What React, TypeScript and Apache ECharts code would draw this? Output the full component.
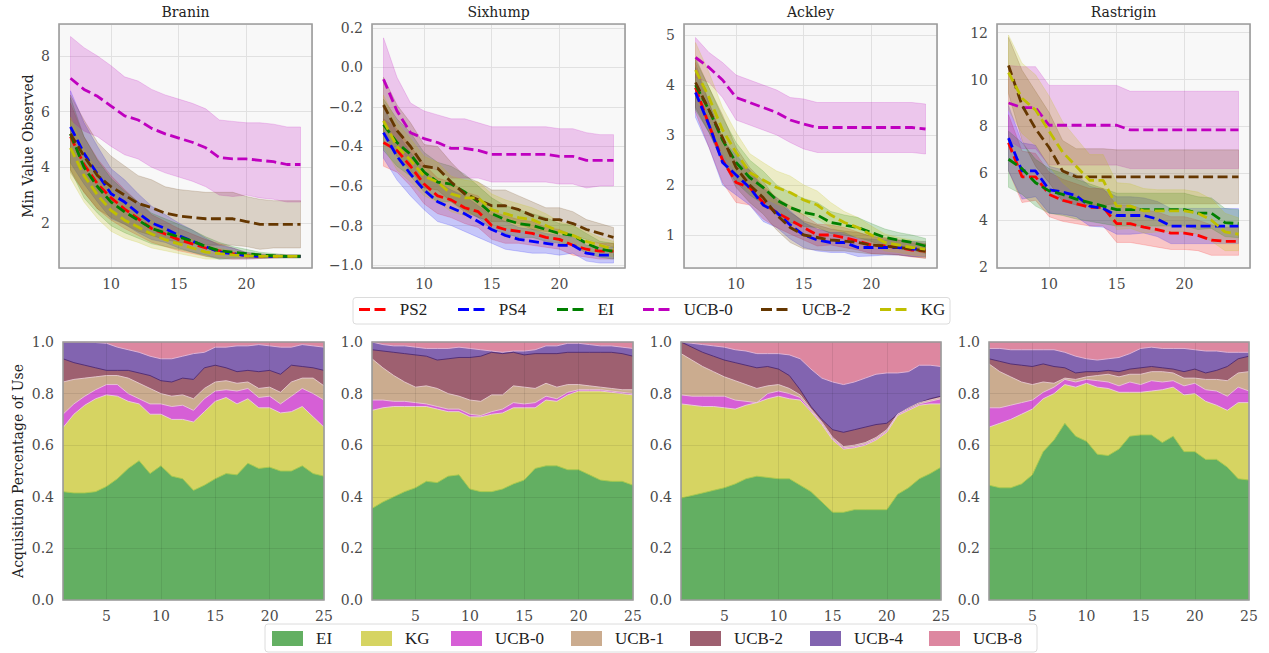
import React, { useEffect, useRef } from "react";
import * as echarts from "echarts";

// ---------------- DATA ----------------
const topX = [7, 8, 9, 10, 11, 12, 13, 14, 15, 16, 17, 18, 19, 20, 21, 22, 23, 24];
const bottomX = [1, 2, 3, 4, 5, 6, 7, 8, 9, 10, 11, 12, 13, 14, 15, 16, 17, 18, 19, 20, 21, 22, 23, 24, 25];

const topMethods = ["PS2", "PS4", "EI", "UCB-0", "UCB-2", "KG"];
const bottomMethods = ["EI", "KG", "UCB-0", "UCB-1", "UCB-2", "UCB-4", "UCB-8"];
const topTitles = ["Branin", "Sixhump", "Ackley", "Rastrigin"];

// Branin: mean and spread of min value observed
const braninPS2 = [5.1, 4.1, 3.4, 2.9, 2.5, 2.15, 1.8, 1.6, 1.4, 1.25, 1.1, 1.0, 0.9, 0.82, 0.8, 0.8, 0.8, 0.8];
const braninPS4 = [5.45, 4.5, 3.75, 3.05, 2.75, 2.35, 2.0, 1.8, 1.55, 1.35, 1.15, 0.95, 0.9, 0.82, 0.8, 0.8, 0.8, 0.8];
const braninEI = [5.2, 4.0, 3.3, 2.75, 2.4, 2.1, 1.8, 1.65, 1.5, 1.35, 1.15, 1.0, 0.95, 0.9, 0.85, 0.82, 0.8, 0.8];
const braninUCB0 = [7.2, 6.8, 6.55, 6.2, 5.85, 5.7, 5.4, 5.2, 5.05, 4.9, 4.7, 4.35, 4.3, 4.3, 4.25, 4.2, 4.1, 4.1];
const braninUCB2 = [5.2, 4.4, 3.7, 3.3, 3.0, 2.7, 2.55, 2.35, 2.25, 2.2, 2.15, 2.15, 2.15, 2.05, 1.95, 1.95, 1.95, 1.95];
const braninKG = [4.7, 3.7, 3.0, 2.45, 2.1, 1.85, 1.6, 1.4, 1.25, 1.1, 0.95, 0.9, 0.85, 0.82, 0.8, 0.8, 0.8, 0.8];
const braninPS2Sd = [1.2, 1.0, 0.9, 0.8, 0.7, 0.6, 0.5, 0.45, 0.4, 0.35, 0.3, 0.25, 0.2, 0.12, 0.08, 0.06, 0.05, 0.05];
const braninPS4Sd = [1.3, 1.1, 1.0, 0.9, 0.8, 0.7, 0.6, 0.5, 0.45, 0.4, 0.3, 0.25, 0.2, 0.12, 0.08, 0.06, 0.05, 0.05];
const braninEISd = [1.3, 1.1, 0.95, 0.85, 0.75, 0.65, 0.55, 0.5, 0.45, 0.4, 0.35, 0.3, 0.2, 0.15, 0.1, 0.08, 0.06, 0.06];
const braninUCB0Sd = [1.5, 1.5, 1.45, 1.45, 1.4, 1.4, 1.4, 1.4, 1.4, 1.4, 1.4, 1.35, 1.35, 1.3, 1.35, 1.35, 1.35, 1.35];
const braninUCB2Sd = [1.4, 1.3, 1.2, 1.1, 1.05, 1.0, 1.0, 0.95, 0.95, 0.95, 0.95, 0.95, 0.95, 0.9, 0.9, 0.85, 0.85, 0.85];
const braninKGSd = [1.1, 0.95, 0.85, 0.75, 0.65, 0.55, 0.5, 0.4, 0.35, 0.3, 0.25, 0.2, 0.15, 0.1, 0.08, 0.06, 0.05, 0.05];

// Sixhump
const sixhumpPS2 = [-0.38, -0.42, -0.5, -0.59, -0.65, -0.67, -0.71, -0.73, -0.8, -0.82, -0.83, -0.84, -0.86, -0.87, -0.9, -0.92, -0.93, -0.93];
const sixhumpPS4 = [-0.33, -0.45, -0.54, -0.62, -0.68, -0.71, -0.74, -0.78, -0.82, -0.85, -0.87, -0.88, -0.89, -0.9, -0.9, -0.94, -0.95, -0.95];
const sixhumpEI = [-0.29, -0.38, -0.44, -0.53, -0.58, -0.59, -0.63, -0.68, -0.74, -0.77, -0.79, -0.8, -0.82, -0.84, -0.85, -0.89, -0.92, -0.93];
const sixhumpUCB0 = [-0.06, -0.22, -0.33, -0.36, -0.38, -0.41, -0.41, -0.42, -0.44, -0.44, -0.44, -0.44, -0.44, -0.45, -0.45, -0.47, -0.47, -0.47];
const sixhumpUCB2 = [-0.19, -0.32, -0.4, -0.5, -0.51, -0.58, -0.64, -0.67, -0.7, -0.7, -0.72, -0.75, -0.77, -0.77, -0.79, -0.82, -0.84, -0.86];
const sixhumpKG = [-0.27, -0.4, -0.47, -0.55, -0.58, -0.64, -0.66, -0.66, -0.72, -0.74, -0.76, -0.77, -0.8, -0.83, -0.85, -0.88, -0.9, -0.92];
const sixhumpPS2Sd = [0.12, 0.11, 0.1, 0.1, 0.09, 0.09, 0.08, 0.08, 0.07, 0.07, 0.06, 0.06, 0.05, 0.05, 0.05, 0.04, 0.04, 0.04];
const sixhumpPS4Sd = [0.13, 0.12, 0.11, 0.1, 0.1, 0.09, 0.09, 0.08, 0.07, 0.07, 0.06, 0.06, 0.05, 0.05, 0.04, 0.04, 0.04, 0.04];
const sixhumpEISd = [0.13, 0.12, 0.11, 0.1, 0.1, 0.09, 0.09, 0.08, 0.08, 0.07, 0.07, 0.06, 0.06, 0.05, 0.05, 0.05, 0.04, 0.04];
const sixhumpUCB0Sd = [0.21, 0.17, 0.15, 0.14, 0.14, 0.15, 0.15, 0.14, 0.14, 0.14, 0.14, 0.14, 0.14, 0.14, 0.14, 0.14, 0.13, 0.13];
const sixhumpUCB2Sd = [0.14, 0.13, 0.12, 0.11, 0.11, 0.1, 0.09, 0.09, 0.08, 0.08, 0.07, 0.07, 0.06, 0.06, 0.06, 0.05, 0.05, 0.05];
const sixhumpKGSd = [0.13, 0.12, 0.11, 0.1, 0.1, 0.09, 0.09, 0.08, 0.08, 0.07, 0.07, 0.06, 0.06, 0.05, 0.05, 0.05, 0.04, 0.04];

// Ackley
const ackleyPS2 = [3.95, 3.2, 2.5, 2.05, 1.95, 1.65, 1.45, 1.3, 1.15, 1.0, 1.0, 0.95, 0.88, 0.8, 0.78, 0.75, 0.7, 0.68];
const ackleyPS4 = [3.85, 3.2, 2.45, 2.2, 1.95, 1.6, 1.45, 1.2, 1.0, 0.9, 0.85, 0.85, 0.75, 0.75, 0.75, 0.75, 0.72, 0.72];
const ackleyEI = [4.0, 3.5, 2.9, 2.45, 2.15, 1.95, 1.7, 1.55, 1.45, 1.4, 1.25, 1.2, 1.15, 1.05, 0.95, 0.9, 0.85, 0.78];
const ackleyUCB0 = [4.55, 4.35, 4.1, 3.75, 3.65, 3.55, 3.45, 3.3, 3.22, 3.15, 3.15, 3.15, 3.15, 3.15, 3.15, 3.15, 3.15, 3.12];
const ackleyUCB2 = [4.05, 3.5, 2.95, 2.35, 2.0, 1.75, 1.4, 1.15, 1.0, 0.95, 0.9, 0.88, 0.85, 0.8, 0.78, 0.75, 0.72, 0.68];
const ackleyKG = [4.3, 3.75, 3.1, 2.65, 2.25, 2.1, 1.95, 1.85, 1.7, 1.6, 1.4, 1.25, 1.15, 1.0, 0.85, 0.8, 0.75, 0.72];
const ackleyPS2Sd = [0.5, 0.45, 0.45, 0.4, 0.35, 0.33, 0.3, 0.28, 0.25, 0.22, 0.2, 0.2, 0.18, 0.17, 0.15, 0.15, 0.14, 0.14];
const ackleyPS4Sd = [0.5, 0.45, 0.45, 0.4, 0.35, 0.33, 0.3, 0.28, 0.25, 0.22, 0.2, 0.2, 0.18, 0.17, 0.15, 0.15, 0.15, 0.15];
const ackleyEISd = [0.5, 0.45, 0.45, 0.4, 0.35, 0.33, 0.3, 0.3, 0.28, 0.25, 0.22, 0.2, 0.2, 0.18, 0.17, 0.15, 0.15, 0.15];
const ackleyUCB0Sd = [0.4, 0.3, 0.35, 0.45, 0.45, 0.45, 0.45, 0.45, 0.5, 0.5, 0.5, 0.5, 0.5, 0.5, 0.5, 0.5, 0.5, 0.5];
const ackleyUCB2Sd = [0.5, 0.45, 0.45, 0.4, 0.35, 0.33, 0.3, 0.3, 0.28, 0.25, 0.22, 0.2, 0.2, 0.18, 0.17, 0.15, 0.15, 0.15];
const ackleyKGSd = [0.55, 0.5, 0.45, 0.4, 0.38, 0.35, 0.33, 0.33, 0.3, 0.28, 0.25, 0.22, 0.2, 0.18, 0.17, 0.15, 0.15, 0.15];

// Rastrigin
const rastriginPS2 = [7.3, 5.85, 5.85, 5.1, 4.85, 4.7, 4.55, 4.55, 3.85, 3.85, 3.7, 3.6, 3.45, 3.45, 3.35, 3.15, 3.1, 3.1];
const rastriginPS4 = [7.5, 6.1, 6.1, 5.3, 5.2, 5.05, 4.6, 4.5, 4.2, 4.2, 4.2, 4.05, 3.75, 3.75, 3.75, 3.75, 3.75, 3.75];
const rastriginEI = [6.6, 6.2, 5.6, 5.25, 5.1, 4.9, 4.75, 4.6, 4.45, 4.45, 4.45, 4.45, 4.45, 4.45, 4.3, 4.3, 3.9, 3.85];
const rastriginUCB0 = [9.0, 8.8, 8.8, 8.05, 8.05, 8.05, 8.05, 8.05, 8.05, 7.85, 7.85, 7.85, 7.85, 7.85, 7.85, 7.85, 7.85, 7.85];
const rastriginUCB2 = [10.6, 8.9, 7.9, 7.1, 6.1, 5.85, 5.85, 5.85, 5.85, 5.85, 5.85, 5.85, 5.85, 5.85, 5.85, 5.85, 5.85, 5.85];
const rastriginKG = [10.3, 9.2, 8.7, 7.8, 6.9, 6.3, 5.7, 5.7, 4.6, 4.6, 4.4, 4.4, 4.4, 4.4, 4.3, 4.0, 3.5, 3.4];
const rastriginPS2Sd = [1.2, 1.1, 1.0, 0.95, 0.9, 0.85, 0.8, 0.8, 0.8, 0.8, 0.75, 0.75, 0.7, 0.7, 0.65, 0.65, 0.6, 0.6];
const rastriginPS4Sd = [1.4, 1.2, 1.1, 1.0, 0.95, 0.9, 0.85, 0.8, 0.8, 0.8, 0.75, 0.75, 0.75, 0.75, 0.75, 0.75, 0.75, 0.75];
const rastriginEISd = [1.2, 1.1, 1.0, 0.95, 0.9, 0.85, 0.8, 0.75, 0.7, 0.7, 0.7, 0.7, 0.7, 0.7, 0.7, 0.65, 0.6, 0.6];
const rastriginUCB0Sd = [1.6, 1.75, 1.75, 1.7, 1.7, 1.7, 1.7, 1.7, 1.7, 1.65, 1.65, 1.65, 1.65, 1.65, 1.65, 1.65, 1.65, 1.65];
const rastriginUCB2Sd = [1.2, 1.5, 1.6, 1.5, 1.3, 1.2, 1.2, 1.2, 1.15, 1.15, 1.15, 1.15, 1.15, 1.15, 1.15, 1.15, 1.15, 1.15];
const rastriginKGSd = [1.6, 1.5, 1.5, 1.5, 1.3, 1.2, 1.1, 1.1, 1.0, 0.95, 0.95, 0.9, 0.9, 0.9, 0.9, 0.9, 0.8, 0.7];

// Acquisition use: cumulative share (top edge of each stacked layer)
const braninCumEI = [0.42, 0.415, 0.415, 0.42, 0.44, 0.47, 0.51, 0.54, 0.49, 0.52, 0.48, 0.47, 0.425, 0.445, 0.47, 0.49, 0.485, 0.53, 0.51, 0.515, 0.5, 0.5, 0.52, 0.49, 0.48];
const braninCumKG = [0.668, 0.72, 0.755, 0.78, 0.795, 0.79, 0.77, 0.76, 0.72, 0.72, 0.7, 0.7, 0.69, 0.73, 0.77, 0.785, 0.76, 0.78, 0.745, 0.745, 0.725, 0.73, 0.75, 0.71, 0.67];
const braninCumUCB0 = [0.72, 0.76, 0.79, 0.815, 0.835, 0.835, 0.8, 0.78, 0.76, 0.76, 0.75, 0.755, 0.735, 0.78, 0.81, 0.815, 0.81, 0.82, 0.785, 0.79, 0.76, 0.79, 0.82, 0.8, 0.775];
const braninCumUCB1 = [0.845, 0.855, 0.86, 0.865, 0.87, 0.87, 0.86, 0.84, 0.82, 0.8, 0.79, 0.795, 0.78, 0.82, 0.845, 0.85, 0.84, 0.845, 0.82, 0.825, 0.805, 0.845, 0.86, 0.86, 0.83];
const braninCumUCB2 = [0.935, 0.92, 0.91, 0.9, 0.89, 0.89, 0.89, 0.88, 0.87, 0.85, 0.845, 0.86, 0.855, 0.9, 0.91, 0.9, 0.885, 0.89, 0.885, 0.89, 0.875, 0.91, 0.905, 0.9, 0.89];
const braninCumUCB4 = [1.0, 1.0, 1.0, 0.998, 0.995, 0.98, 0.97, 0.96, 0.945, 0.935, 0.935, 0.945, 0.955, 0.96, 0.98, 0.98, 0.985, 0.985, 0.99, 0.985, 0.98, 0.98, 0.99, 0.985, 0.98];
const braninCumUCB8 = [1, 1, 1, 1, 1, 1, 1, 1, 1, 1, 1, 1, 1, 1, 1, 1, 1, 1, 1, 1, 1, 1, 1, 1, 1];

const sixhumpCumEI = [0.355, 0.38, 0.4, 0.42, 0.435, 0.46, 0.455, 0.48, 0.485, 0.43, 0.42, 0.42, 0.43, 0.45, 0.465, 0.51, 0.52, 0.52, 0.505, 0.505, 0.485, 0.465, 0.46, 0.46, 0.445];
const sixhumpCumKG = [0.735, 0.745, 0.75, 0.75, 0.75, 0.75, 0.74, 0.73, 0.73, 0.71, 0.71, 0.72, 0.725, 0.745, 0.745, 0.745, 0.775, 0.77, 0.795, 0.81, 0.81, 0.81, 0.805, 0.8, 0.795];
const sixhumpCumUCB0 = [0.775, 0.775, 0.77, 0.77, 0.765, 0.76, 0.75, 0.74, 0.74, 0.72, 0.715, 0.73, 0.74, 0.765, 0.76, 0.765, 0.79, 0.78, 0.805, 0.815, 0.815, 0.815, 0.81, 0.805, 0.8];
const sixhumpCumUCB1 = [0.935, 0.9, 0.87, 0.845, 0.825, 0.83, 0.82, 0.8, 0.79, 0.775, 0.77, 0.795, 0.795, 0.83, 0.825, 0.82, 0.84, 0.825, 0.835, 0.835, 0.83, 0.825, 0.82, 0.815, 0.815];
const sixhumpCumUCB2 = [0.97, 0.965, 0.96, 0.955, 0.95, 0.945, 0.93, 0.935, 0.94, 0.94, 0.945, 0.96, 0.955, 0.96, 0.95, 0.955, 0.955, 0.955, 0.96, 0.96, 0.96, 0.96, 0.96, 0.955, 0.945];
const sixhumpCumUCB4 = [1.0, 0.99, 0.985, 0.985, 0.98, 0.975, 0.975, 0.975, 0.98, 0.975, 0.97, 0.965, 0.96, 0.965, 0.965, 0.97, 0.985, 0.985, 0.995, 0.995, 0.99, 0.985, 0.985, 0.98, 0.975];
const sixhumpCumUCB8 = [1, 1, 1, 1, 1, 1, 1, 1, 1, 1, 1, 1, 1, 1, 1, 1, 1, 1, 1, 1, 1, 1, 1, 1, 1];

const ackleyCumEI = [0.395, 0.405, 0.415, 0.425, 0.435, 0.45, 0.47, 0.48, 0.475, 0.47, 0.47, 0.445, 0.42, 0.38, 0.34, 0.34, 0.35, 0.35, 0.35, 0.35, 0.41, 0.435, 0.47, 0.49, 0.515];
const ackleyCumKG = [0.76, 0.755, 0.75, 0.75, 0.745, 0.74, 0.755, 0.765, 0.78, 0.79, 0.78, 0.775, 0.73, 0.68, 0.62, 0.585, 0.59, 0.6, 0.62, 0.65, 0.715, 0.735, 0.755, 0.76, 0.76];
const ackleyCumUCB0 = [0.795, 0.79, 0.79, 0.79, 0.79, 0.775, 0.77, 0.765, 0.8, 0.81, 0.8, 0.785, 0.735, 0.685, 0.625, 0.59, 0.595, 0.605, 0.625, 0.655, 0.72, 0.74, 0.76, 0.77, 0.78];
const ackleyCumUCB1 = [0.955, 0.93, 0.905, 0.885, 0.865, 0.85, 0.835, 0.82, 0.83, 0.835, 0.82, 0.795, 0.74, 0.69, 0.63, 0.595, 0.6, 0.61, 0.63, 0.66, 0.72, 0.745, 0.765, 0.775, 0.785];
const ackleyCumUCB2 = [1.0, 0.98, 0.96, 0.945, 0.93, 0.92, 0.91, 0.9, 0.905, 0.895, 0.87, 0.815, 0.75, 0.7, 0.66, 0.65, 0.66, 0.67, 0.68, 0.685, 0.72, 0.745, 0.765, 0.78, 0.79];
const ackleyCumUCB4 = [1.0, 0.995, 0.99, 0.985, 0.98, 0.97, 0.965, 0.955, 0.955, 0.955, 0.95, 0.935, 0.895, 0.86, 0.845, 0.835, 0.845, 0.86, 0.875, 0.88, 0.88, 0.885, 0.91, 0.91, 0.905];
const ackleyCumUCB8 = [1, 1, 1, 1, 1, 1, 1, 1, 1, 1, 1, 1, 1, 1, 1, 1, 1, 1, 1, 1, 1, 1, 1, 1, 1];

const rastriginCumEI = [0.445, 0.435, 0.435, 0.45, 0.485, 0.575, 0.62, 0.685, 0.635, 0.615, 0.565, 0.56, 0.585, 0.635, 0.64, 0.64, 0.61, 0.635, 0.575, 0.575, 0.545, 0.545, 0.515, 0.47, 0.465];
const rastriginCumKG = [0.67, 0.685, 0.7, 0.72, 0.74, 0.78, 0.8, 0.835, 0.825, 0.84, 0.825, 0.82, 0.805, 0.805, 0.805, 0.81, 0.815, 0.825, 0.795, 0.8, 0.77, 0.755, 0.735, 0.765, 0.765];
const rastriginCumUCB0 = [0.745, 0.745, 0.755, 0.765, 0.775, 0.805, 0.825, 0.855, 0.845, 0.855, 0.85, 0.845, 0.83, 0.845, 0.835, 0.85, 0.845, 0.85, 0.83, 0.84, 0.815, 0.81, 0.79, 0.825, 0.81];
const rastriginCumUCB1 = [0.915, 0.885, 0.865, 0.845, 0.835, 0.845, 0.84, 0.86, 0.855, 0.865, 0.87, 0.875, 0.865, 0.875, 0.875, 0.885, 0.885, 0.88, 0.86, 0.86, 0.855, 0.855, 0.85, 0.88, 0.885];
const rastriginCumUCB2 = [0.935, 0.925, 0.915, 0.91, 0.905, 0.915, 0.905, 0.9, 0.88, 0.885, 0.885, 0.89, 0.885, 0.895, 0.9, 0.905, 0.9, 0.895, 0.885, 0.895, 0.88, 0.89, 0.905, 0.935, 0.945];
const rastriginCumUCB4 = [0.975, 0.975, 0.97, 0.97, 0.97, 0.97, 0.97, 0.96, 0.945, 0.935, 0.93, 0.935, 0.94, 0.955, 0.975, 0.98, 0.975, 0.975, 0.975, 0.97, 0.965, 0.965, 0.96, 0.96, 0.96];
const rastriginCumUCB8 = [1, 1, 1, 1, 1, 1, 1, 1, 1, 1, 1, 1, 1, 1, 1, 1, 1, 1, 1, 1, 1, 1, 1, 1, 1];

// --------------- STRUCTURE (built from arrays above) ---------------
const topMeans = [
  [braninPS2, braninPS4, braninEI, braninUCB0, braninUCB2, braninKG],
  [sixhumpPS2, sixhumpPS4, sixhumpEI, sixhumpUCB0, sixhumpUCB2, sixhumpKG],
  [ackleyPS2, ackleyPS4, ackleyEI, ackleyUCB0, ackleyUCB2, ackleyKG],
  [rastriginPS2, rastriginPS4, rastriginEI, rastriginUCB0, rastriginUCB2, rastriginKG],
];
const topSpreads = [
  [braninPS2Sd, braninPS4Sd, braninEISd, braninUCB0Sd, braninUCB2Sd, braninKGSd],
  [sixhumpPS2Sd, sixhumpPS4Sd, sixhumpEISd, sixhumpUCB0Sd, sixhumpUCB2Sd, sixhumpKGSd],
  [ackleyPS2Sd, ackleyPS4Sd, ackleyEISd, ackleyUCB0Sd, ackleyUCB2Sd, ackleyKGSd],
  [rastriginPS2Sd, rastriginPS4Sd, rastriginEISd, rastriginUCB0Sd, rastriginUCB2Sd, rastriginKGSd],
];
const bottomCum = [
  [braninCumEI, braninCumKG, braninCumUCB0, braninCumUCB1, braninCumUCB2, braninCumUCB4, braninCumUCB8],
  [sixhumpCumEI, sixhumpCumKG, sixhumpCumUCB0, sixhumpCumUCB1, sixhumpCumUCB2, sixhumpCumUCB4, sixhumpCumUCB8],
  [ackleyCumEI, ackleyCumKG, ackleyCumUCB0, ackleyCumUCB1, ackleyCumUCB2, ackleyCumUCB4, ackleyCumUCB8],
  [rastriginCumEI, rastriginCumKG, rastriginCumUCB0, rastriginCumUCB1, rastriginCumUCB2, rastriginCumUCB4, rastriginCumUCB8],
];

// --------------- STYLE / LAYOUT ---------------
const TOP_COLORS = ["#ff0000", "#0000ff", "#008000", "#bf00bf", "#653700", "#bfbf00"];
const BOTTOM_COLORS = ["#63af62", "#d6d462", "#d65fd6", "#cbac8f", "#9e6070", "#8264b0", "#dd87a0"];
const BOTTOM_EDGE = ["#a8c94e", "#eccde0", "#e9c6d9", "#e6c9d0", "#4e2a73", "#e3b9d8", "#dd87a0"];
const TOP_GRIDS = [
  { left: 59, top: 24, width: 253, height: 244 },
  { left: 372, top: 24, width: 253, height: 244 },
  { left: 684, top: 24, width: 253, height: 244 },
  { left: 997, top: 24, width: 253, height: 244 },
];
const BOTTOM_GRIDS = [
  { left: 63, top: 342, width: 261, height: 258 },
  { left: 372, top: 342, width: 261, height: 258 },
  { left: 681, top: 342, width: 260, height: 258 },
  { left: 989, top: 342, width: 260, height: 258 },
];
const TOP_Y = [
  { min: 0.38, max: 9.15, dec: 0 },
  { min: -1.015, max: 0.22, dec: 1 },
  { min: 0.34, max: 5.22, dec: 0 },
  { min: 1.96, max: 12.37, dec: 0 },
];
const TOP_LEGEND_X = [359, 458, 557, 643, 761, 880];
const BOTTOM_LEGEND_X = [272, 361, 451, 571, 690, 810, 929];
const DASH_ICON = "path://M0,0L11,0L11,3L0,3ZM15.5,0L26.5,0L26.5,3L15.5,3Z";

const SERIF = "DejaVu Serif";
const LEG_FONT = "Liberation Serif";
const TICK_COLOR = "#4a4a4a";

function rgba(hex: string, a: number) {
  const n = parseInt(hex.slice(1), 16);
  return `rgba(${(n >> 16) & 255},${(n >> 8) & 255},${n & 255},${a})`;
}

function buildOption() {
  const grid: any[] = [];
  const xAxis: any[] = [];
  const yAxis: any[] = [];
  const series: any[] = [];
  const graphic: any[] = [];
  const legend: any[] = [];

  // top row
  TOP_GRIDS.forEach((g, i) => {
    grid.push({ ...g, show: true, backgroundColor: "#f8f8f8", borderWidth: 0 });
    xAxis.push({
      type: "value", gridIndex: i, min: 6.15, max: 24.85, splitNumber: 4,
      axisLine: { show: false }, axisTick: { show: false },
      axisLabel: { showMinLabel: false, showMaxLabel: false, margin: 9, fontFamily: SERIF, fontSize: 14, color: TICK_COLOR },
      splitLine: { lineStyle: { color: "#e1e1e1", width: 1 } },
    });
    const yc = TOP_Y[i];
    yAxis.push({
      type: "value", gridIndex: i, min: yc.min, max: yc.max, splitNumber: 5,
      axisLine: { show: false }, axisTick: { show: false },
      axisLabel: {
        showMinLabel: false, showMaxLabel: false, margin: 9, fontFamily: SERIF, fontSize: 14, color: TICK_COLOR,
        formatter: (v: number) => v.toFixed(yc.dec).replace("-", "\u2212"),
      },
      splitLine: { lineStyle: { color: "#e1e1e1", width: 1 } },
      ...(i === 0
        ? { name: "Min Value Observed", nameLocation: "middle", nameGap: 24, nameTextStyle: { fontFamily: SERIF, fontSize: 14, color: "#222" } }
        : {}),
    });
    // shaded bands (mean +/- spread) as polygons in data coordinates
    topMethods.forEach((m, k) => {
      const mean = topMeans[i][k];
      const sd = topSpreads[i][k];
      const c = TOP_COLORS[k];
      series.push({
        type: "custom", name: `${m} band ${i}`, coordinateSystem: "cartesian2d",
        xAxisIndex: i, yAxisIndex: i, silent: true, z: 2,
        encode: { x: 0, y: [1, 2] },
        data: topX.map((x, j) => [x, mean[j] - sd[j], mean[j] + sd[j]]),
        renderItem: (params: any, api: any) => {
          if (params.dataIndex !== 0) return null;
          const pts: number[][] = [];
          for (let j = 0; j < topX.length; j++) pts.push(api.coord([topX[j], mean[j] + sd[j]]));
          for (let j = topX.length - 1; j >= 0; j--) pts.push(api.coord([topX[j], mean[j] - sd[j]]));
          return {
            type: "polygon",
            shape: { points: pts },
            style: { fill: rgba(c, 0.2), stroke: rgba(c, 0.22), lineWidth: 0.8 },
          };
        },
      });
    });
  });
  // mean lines (on top)
  TOP_GRIDS.forEach((_, i) => {
    topMethods.forEach((m, k) => {
      const c = TOP_COLORS[k];
      series.push({
        type: "line", name: m, xAxisIndex: i, yAxisIndex: i, symbol: "none", z: 3,
        data: topX.map((x, j) => [x, topMeans[i][k][j]]),
        itemStyle: { color: c }, lineStyle: { color: c, width: 2.8, type: [10, 4.5] },
      });
    });
    graphic.push({
      type: "text", x: TOP_GRIDS[i].left + TOP_GRIDS[i].width / 2, y: 12, z: 10,
      style: { text: topTitles[i], fill: "#222", font: `14px '${SERIF}'`, textAlign: "center", textVerticalAlign: "middle" },
    });
  });

  // bottom row
  BOTTOM_GRIDS.forEach((g, b) => {
    const gi = 4 + b;
    grid.push({ ...g, show: true, backgroundColor: "#f8f8f8", borderWidth: 0 });
    xAxis.push({
      type: "value", gridIndex: gi, min: 1, max: 25, splitNumber: 5, z: 5,
      axisLine: { show: false }, axisTick: { show: false },
      axisLabel: { showMinLabel: false, margin: 9, fontFamily: SERIF, fontSize: 14, color: TICK_COLOR },
      splitLine: { lineStyle: { color: "rgba(0,0,0,0.08)", width: 1 } },
    });
    yAxis.push({
      type: "value", gridIndex: gi, min: 0, max: 1, interval: 0.2, z: 5,
      axisLine: { show: false }, axisTick: { show: false },
      axisLabel: { margin: 9, fontFamily: SERIF, fontSize: 14, color: TICK_COLOR, formatter: (v: number) => v.toFixed(1) },
      splitLine: { lineStyle: { color: "rgba(0,0,0,0.08)", width: 1 } },
      ...(b === 0
        ? { name: "Acquisition Percentage of Use", nameLocation: "middle", nameGap: 38, nameTextStyle: { fontFamily: SERIF, fontSize: 14, color: "#222" } }
        : {}),
    });
    for (let k = bottomMethods.length - 1; k >= 0; k--) {
      series.push({
        type: "line", name: bottomMethods[k], xAxisIndex: gi, yAxisIndex: gi, symbol: "none", z: 2,
        data: bottomX.map((x, j) => [x, bottomCum[b][k][j]]),
        itemStyle: { color: BOTTOM_COLORS[k] },
        lineStyle: { color: BOTTOM_EDGE[k], width: 0.9 },
        areaStyle: { color: BOTTOM_COLORS[k], opacity: 1 },
      });
    }
  });

  // plot frames
  [...TOP_GRIDS, ...BOTTOM_GRIDS].forEach((g) => {
    graphic.push({
      type: "rect", z: 20, silent: true,
      shape: { x: g.left, y: g.top, width: g.width, height: g.height },
      style: { fill: "none", stroke: "#9c9c9c", lineWidth: 1.6 },
    });
  });

  // legend frames
  graphic.push({
    type: "rect", z: 0, silent: true,
    shape: { x: 353, y: 297.5, width: 597, height: 26.5, r: 3 },
    style: { fill: "rgba(255,255,255,0.9)", stroke: "#dcdcdc", lineWidth: 1 },
  });
  graphic.push({
    type: "rect", z: 0, silent: true,
    shape: { x: 265, y: 624, width: 772, height: 28, r: 3 },
    style: { fill: "rgba(255,255,255,0.9)", stroke: "#dcdcdc", lineWidth: 1 },
  });

  topMethods.forEach((m, k) => {
    legend.push({
      left: TOP_LEGEND_X[k], top: 301, padding: 0, selectedMode: false,
      itemWidth: 27, itemHeight: 3,
      data: [{ name: m, icon: DASH_ICON, itemStyle: { color: TOP_COLORS[k], borderWidth: 0, opacity: 1 } }],
      textStyle: { fontFamily: LEG_FONT, fontSize: 17, color: "#222", padding: [0, 0, 0, 9] },
    });
  });
  bottomMethods.forEach((m, k) => {
    legend.push({
      left: BOTTOM_LEGEND_X[k], top: 630, padding: 0, selectedMode: false,
      itemWidth: 31, itemHeight: 15,
      data: [{ name: m, icon: "rect", itemStyle: { color: BOTTOM_COLORS[k], borderWidth: 0, opacity: 1 } }],
      textStyle: { fontFamily: LEG_FONT, fontSize: 17, color: "#222", padding: [0, 0, 0, 8] },
    });
  });

  return { animation: false, backgroundColor: "#ffffff", grid, xAxis, yAxis, series, graphic, legend };
}

export default function App() {
  const ref = useRef<HTMLDivElement>(null);
  useEffect(() => {
    if (!ref.current) return;
    const chart = echarts.init(ref.current, undefined, { renderer: "svg" });
    chart.setOption(buildOption() as any);
    return () => chart.dispose();
  }, []);
  return <div ref={ref} style={{ position: "fixed", left: 0, top: 0, width: 1269, height: 653 }} />;
}
